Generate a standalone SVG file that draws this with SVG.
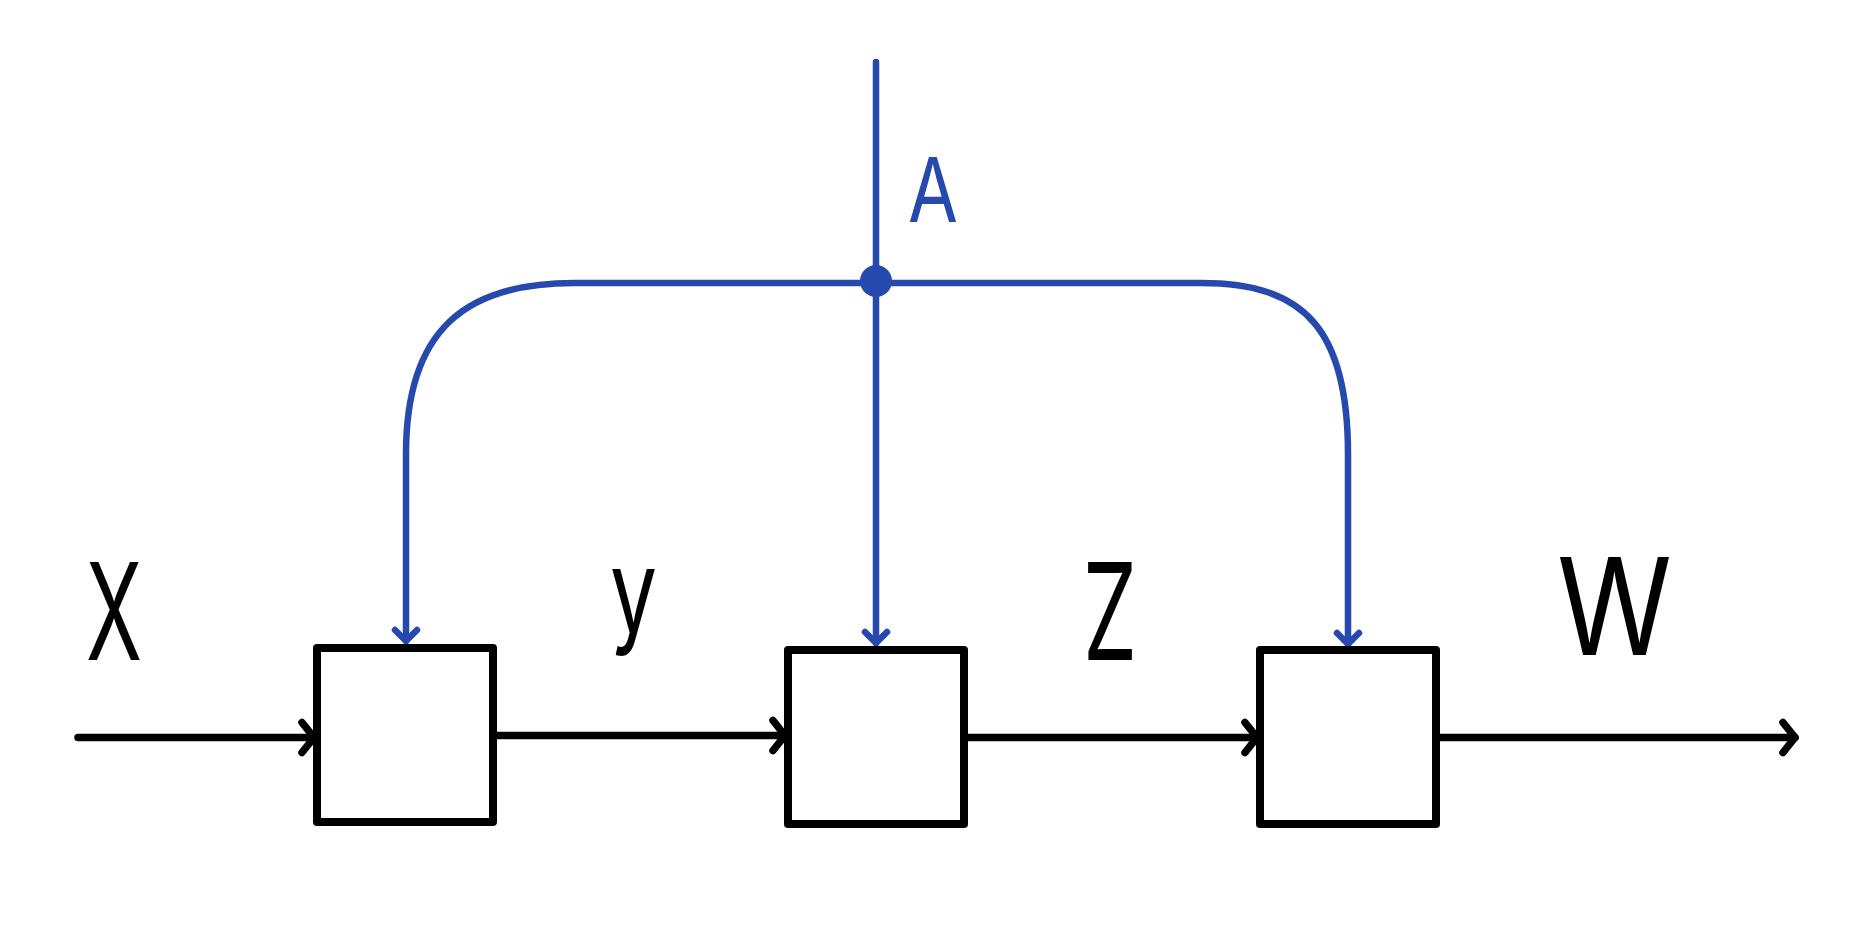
<svg xmlns="http://www.w3.org/2000/svg" width="1874" height="926" viewBox="0 0 1874 926">
<style>
.box{fill:#fff;stroke:#000;stroke-width:8;stroke-linejoin:round}
.blk{fill:none;stroke:#000;stroke-width:7.5;stroke-linecap:round}
.blu{fill:none;stroke:#2649AD;stroke-width:6.5;stroke-linecap:round}
.lbl{font-family:Inter,"Noto Sans","Liberation Sans",sans-serif;font-weight:400;font-size:135px;fill:#000}
.lblA{font-family:Inter,"Noto Sans","Liberation Sans",sans-serif;font-weight:400;font-size:90px;fill:#2649AD}
</style>
<defs>
<marker id="ab" markerUnits="userSpaceOnUse" viewBox="-20 -20 30 40" refX="0" refY="0" markerWidth="30" markerHeight="40" orient="auto" overflow="visible">
<path d="M-12 -15 L0 0 L-12 15" fill="none" stroke="#000" stroke-width="7.5" stroke-linecap="round" stroke-linejoin="round"/>
</marker>
<marker id="au" markerUnits="userSpaceOnUse" viewBox="-20 -20 30 40" refX="0" refY="0" markerWidth="30" markerHeight="40" orient="auto" overflow="visible">
<path d="M-11 -11 L0 0 L-11 11" fill="none" stroke="#2649AD" stroke-width="6.5" stroke-linecap="round" stroke-linejoin="round"/>
</marker>
</defs>
<rect width="1874" height="926" fill="#fff"/>
<g id="connectors">
<path class="blk" d="M78 737.5 H314" marker-end="url(#ab)"/>
<path class="blk" d="M494 735.5 H785" marker-end="url(#ab)"/>
<path class="blk" d="M966 737.5 H1257" marker-end="url(#ab)"/>
<path class="blk" d="M1438 737.5 H1795" marker-end="url(#ab)"/>
<path class="blu" d="M876 62 V643" marker-end="url(#au)"/>
<path class="blu" d="M876 283 H574 C465 283 406 330 406 454 V641" marker-end="url(#au)"/>
<path class="blu" d="M876 283 H1201 C1305 283 1348 330 1348 454 V644" marker-end="url(#au)"/>
<circle cx="876" cy="281" r="16" fill="#2649AD"/>
</g>
<g id="node1"><rect class="box" x="317" y="648" width="176" height="174"/></g>
<g id="node2"><rect class="box" x="788" y="650" width="176" height="174"/></g>
<g id="node3"><rect class="box" x="1260" y="650" width="176" height="174"/></g>
<g id="labels">
<text class="lbl" x="86" y="660" textLength="56" lengthAdjust="spacingAndGlyphs">X</text>
<text class="lbl" x="610" y="632" style="font-size:115px" textLength="47" lengthAdjust="spacingAndGlyphs">y</text>
<text class="lbl" x="1083" y="660" textLength="54" lengthAdjust="spacingAndGlyphs">Z</text>
<text class="lbl" x="1557" y="655" textLength="115" lengthAdjust="spacingAndGlyphs">W</text>
<text class="lblA" x="908" y="222" textLength="50" lengthAdjust="spacingAndGlyphs">A</text>
</g>
</svg>
